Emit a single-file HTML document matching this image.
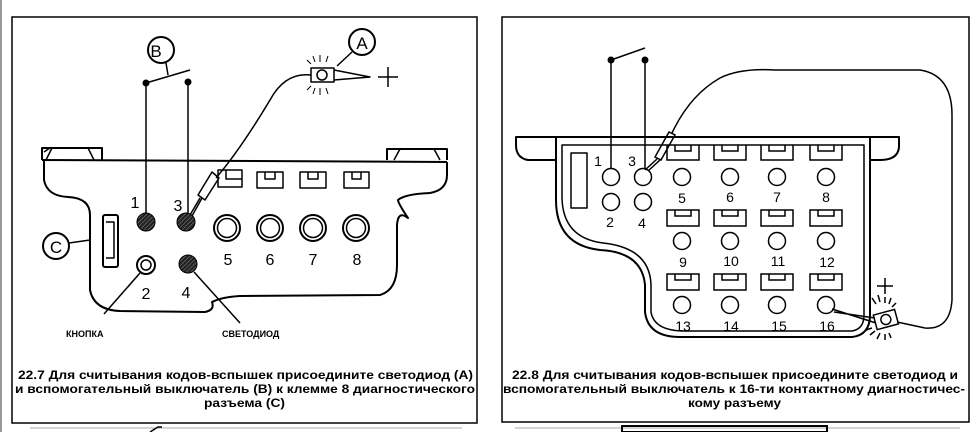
<!DOCTYPE html>
<html><head><meta charset="utf-8"><style>
html,body{margin:0;padding:0;background:#fff;}
svg{display:block;}
text{font-family:"Liberation Sans","Noto Sans CJK SC",sans-serif;fill:#000;}
</style></head><body>
<svg width="976" height="432" viewBox="0 0 976 432" xmlns="http://www.w3.org/2000/svg">
<defs>
<pattern id="h" width="3" height="3" patternUnits="userSpaceOnUse" patternTransform="rotate(45)">
<rect width="3" height="3" fill="#222"/><line x1="0" y1="0" x2="0" y2="3" stroke="#888" stroke-width="1"/>
</pattern>
</defs>
<rect x="0" y="0" width="2" height="432" fill="#999"/>
<!-- LEFT PANEL -->
<rect x="12" y="17" width="465" height="406" fill="none" stroke="#000" stroke-width="1.5"/>
<g fill="none" stroke="#000" stroke-width="2" stroke-linejoin="round">
<path d="M42,160 L42,148 L102,148 L102,160 M387,160 L387,149 L447,149 L447,160"/>
<line x1="42" y1="160" x2="447" y2="162"/>
<path d="M44,152 l6,-4 M52,148 l-6,12 M88,148 l6,12 M400,149 l-6,11 M434,149 l6,11" stroke-width="1.5"/>
<path d="M44,160 L44,180 Q47,196 68,197 Q90,198 90,215 L90,290 Q94,310 120,311 L205,312 Q215,310 212,302 Q222,297 240,296 L380,295 Q397,290 397,265 L397,225 Q398,210 408,218 Q398,203 398,200 Q405,194 430,193 Q447,190 447,175 L447,162"/>
<rect x="103" y="215" width="15" height="52" rx="2"/>
<path d="M106,222 L114,222 L114,258 L106,258" stroke-width="1.5"/>
<circle cx="56" cy="246" r="13"/>
<line x1="69" y1="243" x2="90" y2="240" stroke-width="1.5"/>
<circle cx="161" cy="50" r="13"/>
<circle cx="362" cy="42" r="13"/>
<!-- slots -->
<path d="M218,187 L218,170 L242,170 L242,187 Z M226,170 L226,179 L242,179" stroke-width="1.5"/>
<path d="M257,172 h26 v16 h-26 z M265,172 v7 h10 v-7" stroke-width="1.5"/>
<path d="M300,172 h26 v16 h-26 z M308,172 v7 h10 v-7" stroke-width="1.5"/>
<path d="M344,172 h25 v16 h-25 z M352,172 v7 h9 v-7" stroke-width="1.5"/>
<circle cx="227" cy="228" r="13"/><circle cx="227" cy="228" r="9.5" stroke-width="1.5"/>
<circle cx="270" cy="228" r="13"/><circle cx="270" cy="228" r="9.5" stroke-width="1.5"/>
<circle cx="313" cy="228" r="13"/><circle cx="313" cy="228" r="9.5" stroke-width="1.5"/>
<circle cx="356" cy="228" r="13"/><circle cx="356" cy="228" r="9.5" stroke-width="1.5"/>
<circle cx="146" cy="265" r="9"/><circle cx="146" cy="265" r="5" stroke-width="1.5"/>
<!-- switch -->
<line x1="146" y1="83" x2="146" y2="213" stroke-width="1.5"/>
<line x1="188" y1="82" x2="188" y2="213" stroke-width="1.5"/>
<line x1="146" y1="83" x2="190" y2="70" stroke-width="1.5"/>
<line x1="166" y1="63" x2="168" y2="75" stroke-width="1.5"/>
<!-- LED A -->
<rect x="311" y="68" width="23" height="14" stroke-width="1.5"/>
<circle cx="322" cy="75" r="5" stroke-width="1.5"/>
<path d="M334,70 L370,77 L334,80" stroke-width="1.5"/>
<line x1="337" y1="66" x2="352" y2="52" stroke-width="1.5"/>
<path d="M378,77 h20 M388,67 v20" stroke-width="1.5"/>
<path d="M307,60 l4,4 M313,56 l2,6 M320,55 v7 M328,56 l-2,6 M307,90 l4,-4 M313,94 l2,-6 M320,95 v-7 M328,94 l-2,-6" stroke-width="1"/>
<path d="M311,75 Q285,72 270,100 Q240,150 216,178" stroke-width="1.5"/>
<path d="M212,172 L219,178 L205,200 L198,195 Z" stroke-width="1.5"/>
<line x1="200" y1="198" x2="190" y2="215" stroke-width="1.5"/>
<line x1="202" y1="198" x2="192" y2="216" stroke-width="1.5"/>
<!-- leaders -->
<line x1="140" y1="273" x2="104" y2="314" stroke-width="1.5"/>
<line x1="194" y1="272" x2="240" y2="323" stroke-width="1.5"/>
</g>
<circle cx="146" cy="83" r="3.5"/><circle cx="188" cy="82" r="3.5"/>
<circle cx="146" cy="222" r="9" fill="url(#h)" stroke="#000" stroke-width="1"/>
<circle cx="186" cy="222" r="9" fill="url(#h)" stroke="#000" stroke-width="1"/>
<circle cx="188" cy="264" r="9" fill="url(#h)" stroke="#000" stroke-width="1"/>
<g font-size="17">
<text x="156" y="57" text-anchor="middle">B</text>
<text x="362" y="49" text-anchor="middle">A</text>
<text x="56" y="253" text-anchor="middle">C</text>
</g>
<g font-size="16" text-anchor="middle">
<text x="135" y="208">1</text><text x="178" y="211">3</text>
<text x="146" y="299">2</text><text x="186" y="298">4</text>
<text x="228" y="265">5</text><text x="270" y="265">6</text><text x="313" y="265">7</text><text x="357" y="265">8</text>
</g>
<g font-size="9" font-weight="bold">
<text x="66" y="337">КНОПКА</text>
<text x="222" y="337">СВЕТОДИОД</text>
</g>
<g font-size="12" font-weight="bold">
<text x="18" y="379" textLength="455" lengthAdjust="spacingAndGlyphs">22.7 Для считывания кодов-вспышек присоедините светодиод (А)</text>
<text x="15" y="393" textLength="460" lengthAdjust="spacingAndGlyphs">и вспомогательный выключатель (В) к клемме 8 диагностического</text>
<text x="204" y="407" textLength="81" lengthAdjust="spacingAndGlyphs">разъема (С)</text>
</g>
<!-- RIGHT PANEL -->
<rect x="502" y="17" width="467" height="405" fill="none" stroke="#000" stroke-width="1.5"/>
<g fill="none" stroke="#000" stroke-width="2" stroke-linejoin="round">
<path d="M556,160 L528,160 Q516,158 516,145 L516,137 L899,137 L899,147 Q898,160 880,160 L870,160"/>
<path d="M556,137 L556,200 Q556,245 600,250 Q642,252 645,285 L645,312 Q648,337 680,337 L852,337 Q870,335 870,315 L870,137"/>
<path d="M562,145 L562,198 Q563,238 603,243 Q650,248 651,285 L651,312 Q654,330 682,331 L852,331 Q864,329 864,315 L864,145 Z" stroke-width="1.5"/>
<rect x="571" y="153" width="16" height="55" stroke-width="1.5"/>
</g>
<g fill="none" stroke="#000" stroke-width="1.5" id="slots">
<path d="M667,145 v15 h32 v-15 M675,145 v6 h16 v-6"/>
<path d="M714,145 v15 h32 v-15 M722,145 v6 h16 v-6"/>
<path d="M761,145 v15 h32 v-15 M769,145 v6 h16 v-6"/>
<path d="M810,145 v15 h32 v-15 M818,145 v6 h16 v-6"/>
<path d="M667,210 h32 v16 h-32 z M675,210 v6 h16 v-6"/>
<path d="M714,210 h32 v16 h-32 z M722,210 v6 h16 v-6"/>
<path d="M761,210 h32 v16 h-32 z M769,210 v6 h16 v-6"/>
<path d="M810,210 h32 v16 h-32 z M818,210 v6 h16 v-6"/>
<path d="M667,274 h32 v16 h-32 z M675,274 v6 h16 v-6"/>
<path d="M714,274 h32 v16 h-32 z M722,274 v6 h16 v-6"/>
<path d="M761,274 h32 v16 h-32 z M769,274 v6 h16 v-6"/>
<path d="M810,274 h32 v16 h-32 z M818,274 v6 h16 v-6"/>
<circle cx="611" cy="177" r="8.5"/><circle cx="643" cy="177" r="8.5"/>
<circle cx="611" cy="202" r="8.5"/><circle cx="643" cy="202" r="8.5"/>
<circle cx="682" cy="177" r="8.5"/><circle cx="730" cy="177" r="8.5"/><circle cx="777" cy="177" r="8.5"/><circle cx="826" cy="177" r="8.5"/>
<circle cx="682" cy="241" r="8.5"/><circle cx="730" cy="241" r="8.5"/><circle cx="777" cy="241" r="8.5"/><circle cx="826" cy="241" r="8.5"/>
<circle cx="682" cy="305" r="8.5"/><circle cx="730" cy="305" r="8.5"/><circle cx="777" cy="305" r="8.5"/><circle cx="826" cy="305" r="8.5"/>
<!-- switch -->
<line x1="611" y1="60" x2="611" y2="168"/>
<line x1="645" y1="60" x2="645" y2="168"/>
<line x1="611" y1="60" x2="645" y2="48"/>
<!-- probe & wire -->
<path d="M669,132 L675,135 L661,160 L655,157 Z"/>
<line x1="657" y1="159" x2="645" y2="170"/><line x1="660" y1="160" x2="648" y2="171"/>
<path d="M672,133 Q690,95 720,78 Q740,68 775,70 L920,70 Q952,75 952,115 L952,300 Q950,330 925,328 L897,322"/>
<!-- LED -->
<g transform="rotate(-15 886 320)">
<rect x="875" y="312" width="22" height="15"/>
<circle cx="886" cy="319.5" r="5"/>
</g>
<path d="M832,309 L876,323 M834,312 L875,318"/>
<path d="M885,278 v16 M877,286 h16"/>
<path d="M872,298 l4,6 M878,295 l2,7 M885,297 v6 M891,298 l-2,6 M896,303 l-4,4 M870,335 l5,-4 M877,339 l3,-6 M885,340 v-6 M891,338 l-2,-5 M866,330 l6,-2"/>
</g>
<circle cx="611" cy="60" r="3.5"/><circle cx="645" cy="60" r="3.5"/>
<g font-size="14" text-anchor="middle">
<text x="598" y="166">1</text><text x="632" y="166">3</text>
<text x="610" y="227">2</text><text x="642" y="228">4</text>
<text x="682" y="203">5</text><text x="730" y="202">6</text><text x="777" y="202">7</text><text x="826" y="202">8</text>
<text x="683" y="267">9</text><text x="731" y="266">10</text><text x="778" y="266">11</text><text x="827" y="267">12</text>
<text x="683" y="331">13</text><text x="731" y="331">14</text><text x="779" y="331">15</text><text x="827" y="331">16</text>
</g>
<g font-size="12" font-weight="bold">
<text x="512" y="379" textLength="446" lengthAdjust="spacingAndGlyphs">22.8 Для считывания кодов-вспышек присоедините светодиод и</text>
<text x="503" y="393" textLength="462" lengthAdjust="spacingAndGlyphs">вспомогательный выключатель к 16-ти контактному диагностичес-</text>
<text x="688" y="407" textLength="93" lengthAdjust="spacingAndGlyphs">кому разъему</text>
</g>
<!-- bottom -->
<line x1="30" y1="428" x2="462" y2="428" stroke="#aaa" stroke-width="1"/>
<line x1="515" y1="428" x2="960" y2="428" stroke="#aaa" stroke-width="1"/>
<path d="M150,432 L158,427 L162,427" stroke="#000" fill="none" stroke-width="1.5"/>
<rect x="622" y="426" width="205" height="6" fill="none" stroke="#000" stroke-width="2"/>
</svg>
</body></html>
